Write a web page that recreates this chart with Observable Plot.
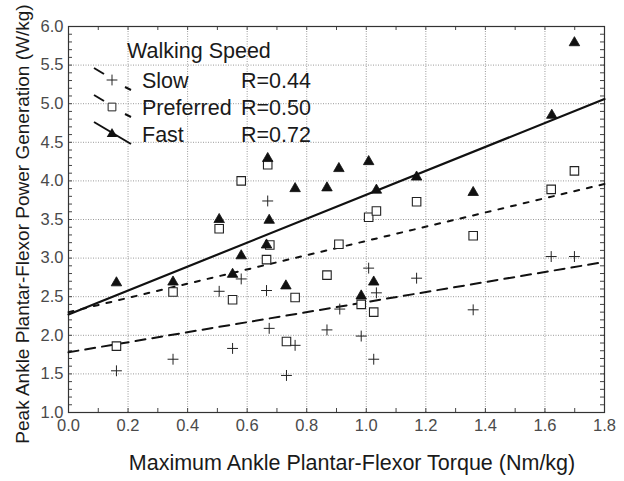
<!DOCTYPE html>
<html>
<head>
<meta charset="utf-8">
<script src="https://cdn.jsdelivr.net/npm/d3@7"></script>
<script src="https://cdn.jsdelivr.net/npm/@observablehq/plot@0.6"></script>
<style>
  html, body { margin: 0; padding: 0; background: #fff; }
  #chart svg { display: block; }
</style>
</head>
<body>
<div id="chart"></div>
<script>
// ---- data ----
const slowX = [0.161,0.351,0.506,0.551,0.580,0.669,0.665,0.674,0.732,0.761,0.868,0.911,0.983,1.008,1.025,1.034,1.169,1.359,1.621,1.699];
const slowY = [1.54,1.69,2.57,1.83,2.73,3.74,2.58,2.09,1.48,1.87,2.07,2.34,1.99,2.87,1.69,2.55,2.74,2.33,3.02,3.02];

const prefX = [0.161,0.351,0.506,0.551,0.580,0.669,0.676,0.665,0.732,0.761,0.868,0.908,0.983,1.008,1.025,1.034,1.169,1.359,1.621,1.699];
const prefY = [1.86,2.56,3.38,2.46,4.00,4.21,3.17,2.98,1.92,2.49,2.78,3.18,2.40,3.53,2.30,3.61,3.73,3.29,3.89,4.13];

const fastX = [0.161,0.351,0.506,0.551,0.580,0.669,0.674,0.665,0.730,0.761,0.868,0.908,0.983,1.008,1.025,1.034,1.169,1.359,1.623,1.699];
const fastY = [2.68,2.69,3.50,2.79,3.03,4.29,3.49,3.17,2.64,3.90,3.91,4.16,2.51,4.25,2.69,3.88,4.05,3.85,4.85,5.79];

// regression lines (end points)
const fitX = [0, 1.8];
const slowFit = [1.78, 2.95];
const prefFit = [2.30, 3.96];
const fastFit = [2.27, 5.06];

const seriesNames = ["Slow", "Preferred", "Fast"];
const seriesR = ["R=0.44", "R=0.50", "R=0.72"];
const legendTitle = "Walking Speed";
const xTitle = "Maximum Ankle Plantar-Flexor Torque (Nm/kg)";
const yTitle = "Peak Ankle Plantar-Flexor Power Generation (W/kg)";

const xTicks = [0, 0.2, 0.4, 0.6, 0.8, 1.0, 1.2, 1.4, 1.6, 1.8];
const yTicks = [1.0, 1.5, 2.0, 2.5, 3.0, 3.5, 4.0, 4.5, 5.0, 5.5, 6.0];
const xMinor = d3.range(0, 19).map(i => i / 10);
const yMinor = d3.range(10, 61).map(i => i / 10);

// ---- build ----
const toRows = (xs, ys) => xs.map((x, i) => ({x, y: ys[i]}));
const slow = toRows(slowX, slowY);
const pref = toRows(prefX, prefY);
const fast = toRows(fastX, fastY);
const slowLine = toRows(fitX, slowFit);
const prefLine = toRows(fitX, prefFit);
const fastLine = toRows(fitX, fastFit);

const W = 624, H = 481;
const mL = 68, mR = 20, mT = 26, mB = 69;
const innerW = W - mL - mR, innerH = H - mT - mB;
const FONT = "'Liberation Sans', Arial, Helvetica, sans-serif";
const dashSlow = "10,7";
const dashPref = "5,8";

const chart = Plot.plot({
  width: W, height: H,
  marginLeft: mL, marginRight: mR, marginTop: mT, marginBottom: mB,
  style: {fontFamily: FONT, background: "#fff", color: "#222"},
  x: {domain: [0, 1.8]},
  y: {domain: [1, 6]},
  marks: [
    Plot.gridX(xTicks, {stroke: "#9a9a9a", strokeOpacity: 1, strokeDasharray: "1,1.5", strokeWidth: 1}),
    Plot.gridY(yTicks, {stroke: "#9a9a9a", strokeOpacity: 1, strokeDasharray: "1,1.5", strokeWidth: 1}),
    // minor inward ticks on all four sides
    Plot.tickX(xMinor, {x: d => d, insetTop: innerH - 4, stroke: "#444"}),
    Plot.tickX(xMinor, {x: d => d, insetBottom: innerH - 4, stroke: "#444"}),
    Plot.tickY(yMinor, {y: d => d, insetRight: innerW - 4, stroke: "#444"}),
    Plot.tickY(yMinor, {y: d => d, insetLeft: innerW - 4, stroke: "#444"}),
    Plot.axisX(xTicks, {anchor: "bottom", tickSize: 0, tickPadding: 7, fontSize: 16.5, fill: "#4a4a4a", label: null, tickFormat: d3.format(".1f")}),
    Plot.axisY(yTicks, {anchor: "left", tickSize: 0, tickPadding: 5, fontSize: 16.5, fill: "#4a4a4a", label: null, tickFormat: d3.format(".1f")}),
    Plot.frame({stroke: "#333", strokeWidth: 1.2}),
    Plot.line(slowLine, {x: "x", y: "y", stroke: "#111", strokeWidth: 2, strokeDasharray: dashSlow}),
    Plot.line(prefLine, {x: "x", y: "y", stroke: "#111", strokeWidth: 2, strokeDasharray: dashPref}),
    Plot.line(fastLine, {x: "x", y: "y", stroke: "#111", strokeWidth: 2.2}),
    Plot.dot(slow, {x: "x", y: "y", symbol: "plus", r: 3.6, stroke: "#222", fill: "none", strokeWidth: 1}),
    Plot.dot(pref, {x: "x", y: "y", symbol: "square", r: 4.8, stroke: "#222", fill: "#fff", strokeWidth: 1.1}),
    Plot.dot(fast, {x: "x", y: "y", symbol: "triangle", r: 3.9, fill: "#111", stroke: "#111", strokeWidth: 0.8})
  ]
});

document.getElementById("chart").appendChild(chart);

// ---- titles & legend (decorations) ----
const svg = d3.select(chart);
const deco = svg.append("g").attr("font-family", FONT).attr("fill", "#1a1a1a").attr("text-anchor", "start");

deco.append("text")
  .attr("x", 352).attr("y", 470)
  .attr("text-anchor", "middle").attr("font-size", 21.5)
  .text(xTitle);

deco.append("text")
  .attr("transform", `translate(29,224) rotate(-90)`)
  .attr("text-anchor", "middle").attr("font-size", 19)
  .text(yTitle);

deco.append("text")
  .attr("x", 127).attr("y", 58).attr("font-size", 21.5)
  .text(legendTitle);

const rowsY = [88, 115, 142];
const symbols = [d3.symbolPlus, d3.symbolSquare, d3.symbolTriangle];
const symSizes = [40, 60, 48];
seriesNames.forEach((name, i) => {
  const cy = rowsY[i] - 8;
  const seg = (x1, y1, x2, y2) => deco.append("line")
    .attr("x1", x1).attr("y1", y1).attr("x2", x2).attr("y2", y2)
    .attr("stroke", "#111").attr("stroke-width", 2);
  if (i < 2) {
    // dashed sample: broken around the symbol
    seg(94, cy - 12, 104, cy - 6);
    seg(125, cy + 7, 131, cy + 10);
  } else {
    seg(94, cy - 12, 131, cy + 10);
  }
  const p = deco.append("path")
    .attr("transform", `translate(112,${cy})`)
    .attr("d", d3.symbol(symbols[i], symSizes[i])());
  if (i === 0) p.attr("fill", "none").attr("stroke", "#222");
  else if (i === 1) p.attr("fill", "#fff").attr("stroke", "#222");
  else p.attr("fill", "#111");
  deco.append("text").attr("x", 142).attr("y", rowsY[i]).attr("font-size", 21.5).text(name);
  deco.append("text").attr("x", 241).attr("y", rowsY[i]).attr("font-size", 21.5).text(seriesR[i]);
});
</script>
</body>
</html>
